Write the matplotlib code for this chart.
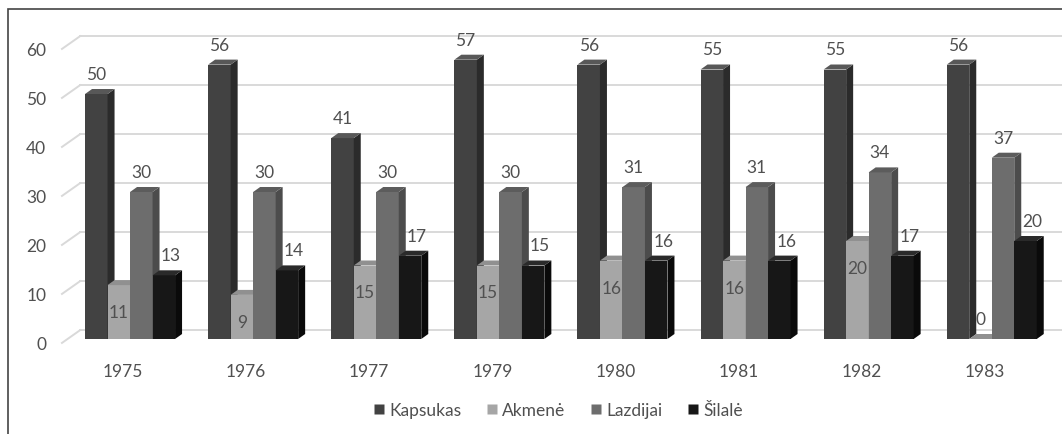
import matplotlib
matplotlib.use('Agg')
import matplotlib.pyplot as plt
from matplotlib.patches import Polygon, Rectangle
from matplotlib.lines import Line2D

# data
years = ['1975', '1976', '1977', '1979', '1980', '1981', '1982', '1983']
series = ['Kapsukas', 'Akmenė', 'Lazdijai', 'Šilalė']
kapsukas = [50, 56, 41, 57, 56, 55, 55, 56]
akmene = [11, 9, 15, 15, 16, 16, 20, 0]
lazdijai = [30, 30, 30, 30, 31, 31, 34, 37]
silale = [13, 14, 17, 15, 16, 16, 17, 20]
y_ticks = [0, 10, 20, 30, 40, 50, 60]

plt.rcParams['font.family'] = ['Lato', 'DejaVu Sans']
TXT = '#505050'

front = ['#424242', '#a6a6a6', '#6d6d6d', '#171717']
side = ['#2b2b2b', '#8e8e8e', '#4c4c4c', '#0a0a0a']
top = ['#585858', '#909090', '#5c5c5c', '#2a2a2a']

W, H = 1062, 435
fig = plt.figure(figsize=(W / 100, H / 100), dpi=100)
ax = fig.add_axes([68.5 / W, 95 / H, 984.8 / W, 294 / H])
ax.set_xlim(-0.5, 7.5)
ax.set_ylim(0, 60)
ax.axis('off')

px_x = 123.1   # pixels per category
px_y = 4.9     # pixels per value unit
bar_w = 22.5 / px_x
dx = 7 / px_x
dy = 5 / px_y

# back wall gridlines and slanted side-wall lines
for v in y_ticks:
    ax.plot([-0.406, 7.6], [v + 1.8, v + 1.8], color='#d9d9d9', lw=1.4,
            clip_on=False, zorder=1)
    ax.plot([-0.553, -0.406], [v - 0.8, v + 1.8], color='#d9d9d9', lw=1.4,
            clip_on=False, zorder=1)
    ax.text(-0.68, v - 1.0, str(v), ha='right', va='center', fontsize=12.5,
            color=TXT)

values = [kapsukas, akmene, lazdijai, silale]
label_dx = [0, 0, 0, 7 / px_x]

for i, yr in enumerate(years):
    for j, vals in enumerate(values):
        v = vals[i]
        x0 = i - 2 * bar_w + j * bar_w
        x1 = x0 + bar_w
        z = 2 + j
        ax.add_patch(Rectangle((x0, 0), bar_w, v, facecolor=front[j],
                               edgecolor='none', zorder=z))
        ax.add_patch(Polygon([(x1, 0), (x1, v), (x1 + dx, v + dy), (x1 + dx, dy)],
                             closed=True, facecolor=side[j], edgecolor='none',
                             zorder=z))
        ax.add_patch(Polygon([(x0, v), (x1, v), (x1 + dx, v + dy), (x0 + dx, v + dy)],
                             closed=True, facecolor=top[j], edgecolor='none',
                             zorder=z))
        cx = (x0 + x1) / 2 + label_dx[j]
        if j == 1:
            ly = v - 27 / px_y if v > 0 else v + 20 / px_y
        else:
            ly = v + 20 / px_y
        ax.text(cx, ly, str(v), ha='center', va='center', fontsize=12.5,
                color=TXT, zorder=10, clip_on=False)
    ax.text(i - 7 / px_x, -32 / px_y, yr, ha='center', va='center',
            fontsize=12.5, color=TXT, clip_on=False)

handles = [Line2D([], [], marker='s', linestyle='none', markersize=7.5,
                  markerfacecolor=front[j], markeredgecolor='none')
           for j in range(len(series))]
fig.legend(handles, series, loc='center', bbox_to_anchor=(557 / W, 1 - 411 / H),
           ncol=4, frameon=False, fontsize=12.5, handletextpad=0.15,
           columnspacing=1.3, labelcolor=TXT, handlelength=0.9)

# chart border (only left and top visible in the scan)
fig.add_artist(Rectangle((8 / W, -0.2), 1.2, 1.2 - 10 / H,
                         transform=fig.transFigure, fill=False,
                         edgecolor='#444444', lw=1.2))

fig.savefig('out.png', dpi=100)
